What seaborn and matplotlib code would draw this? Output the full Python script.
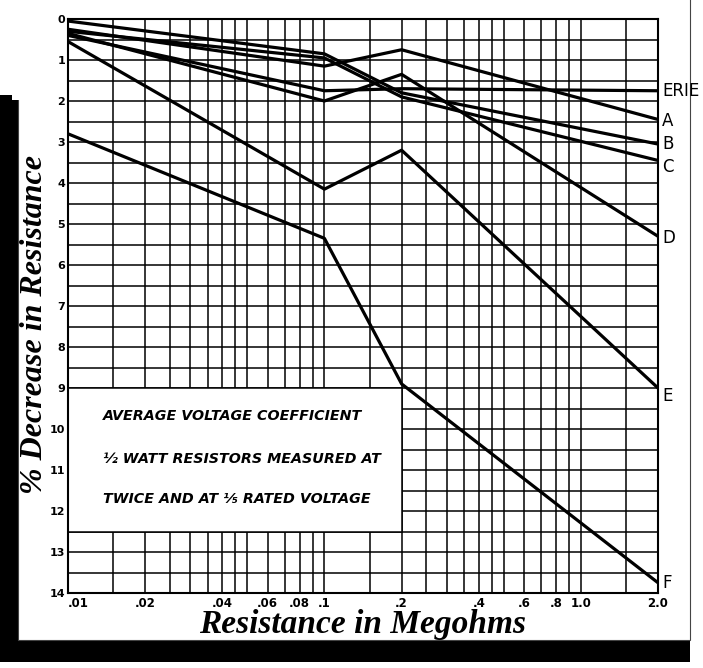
import numpy as np
import pandas as pd
import seaborn as sns
import matplotlib.pyplot as plt
from matplotlib.patches import Rectangle

# Data (resistance in megohms, % decrease)
resistance = [0.01, 0.1, 0.2, 2.0]
series_names = ["ERIE", "A", "B", "C", "D", "E", "F"]
erie = [0.40, 1.75, 1.70, 1.75]
a_vals = [0.25, 1.15, 0.75, 2.45]
b_vals = [0.05, 0.85, 1.80, 3.05]
c_vals = [0.30, 0.95, 1.90, 3.45]
d_vals = [0.35, 2.00, 1.35, 5.30]
e_vals = [0.55, 4.15, 3.20, 9.00]
f_vals = [2.80, 5.35, 8.90, 13.75]

x_tick_vals = [0.01, 0.02, 0.04, 0.06, 0.08, 0.1, 0.2, 0.4, 0.6, 0.8, 1.0, 2.0]
x_tick_labels = [".01", ".02", ".04", ".06", ".08", ".1", ".2", ".4", ".6", ".8", "1.0", "2.0"]
x_grid_vals = [0.01, 0.015, 0.02, 0.025, 0.03, 0.035, 0.04, 0.045, 0.05, 0.06, 0.07,
               0.08, 0.09, 0.1, 0.15, 0.2, 0.25, 0.3, 0.35, 0.4, 0.45, 0.5, 0.6,
               0.7, 0.8, 0.9, 1.0, 1.5, 2.0]
y_ticks = list(range(0, 15))

box_lines = ["AVERAGE VOLTAGE COEFFICIENT",
             "½ WATT RESISTORS MEASURED AT",
             "TWICE AND AT ⅕ RATED VOLTAGE"]

all_vals = [erie, a_vals, b_vals, c_vals, d_vals, e_vals, f_vals]
df = pd.DataFrame({
    "series": np.repeat(series_names, len(resistance)),
    "resistance": resistance * len(series_names),
    "decrease": np.concatenate(all_vals),
})

sns.set_style("white")
plt.rcParams["text.color"] = "black"
plt.rcParams["xtick.color"] = "black"
plt.rcParams["ytick.color"] = "black"
plt.rcParams["axes.labelcolor"] = "black"

W, H = 703, 668
fig = plt.figure(figsize=(W / 100, H / 100), dpi=100)

# photo mount: black shadow + white sheet
fig.patches.append(Rectangle((0, 6 / H), 690 / W, (662 - 95) / H, transform=fig.transFigure,
                             facecolor="black", edgecolor="none", zorder=-3))
fig.patches.append(Rectangle((18 / W, 1 - 640 / H), (690 - 18) / W, 650 / H, transform=fig.transFigure,
                             facecolor="white", edgecolor="#444444", lw=0.8, zorder=-2))
fig.patches.append(Rectangle((12 / W, 1 - 100 / H), 20 / W, 110 / H, transform=fig.transFigure,
                             facecolor="white", edgecolor="none", zorder=-1))

ax = fig.add_axes([68 / W, 1 - 593 / H, (658 - 68) / W, (593 - 19) / H])
ax.set_axisbelow(True)

sns.lineplot(data=df, x="resistance", y="decrease", units="series", estimator=None,
             color="black", lw=2.3, ax=ax, zorder=5)

ax.set_xscale("log")
ax.set_xlim(0.01, 2.0)
ax.set_ylim(14, 0)

ax.set_xticks(x_tick_vals)
ax.set_xticklabels(x_tick_labels)
ax.set_xticks([v for v in x_grid_vals if v not in x_tick_vals], minor=True)
ax.set_yticks(y_ticks)
ax.set_yticklabels([str(v) for v in y_ticks])
ax.set_yticks(np.arange(0.5, 14, 1.0), minor=True)
ax.tick_params(which="both", length=0)
ax.tick_params(axis="x", pad=3, labelsize=8.5)
ax.tick_params(axis="y", pad=2, labelsize=8)
for lab in ax.get_xticklabels() + ax.get_yticklabels():
    lab.set_fontweight("bold")
ax.get_xticklabels()[0].set_horizontalalignment("left")
ax.xaxis.set_minor_formatter(plt.NullFormatter())

ax.grid(which="both", color="black", lw=1.1)
for s in ax.spines.values():
    s.set_color("black")
    s.set_linewidth(1.5)

# white caption box covering the grid
ax.add_patch(Rectangle((0.01, 9), 0.2 - 0.01, 3.5, facecolor="white", edgecolor="black",
                       lw=1.1, zorder=2))
for txt, yy in zip(box_lines, [9.68, 10.73, 11.7]):
    ax.text(0.0137, yy, txt, fontsize=10.3, style="italic", fontweight="bold",
            va="center", ha="left", zorder=3)

# series labels at the right end
label_dy = [0.0, 0.05, 0.0, 0.15, 0.05, 0.2, 0.0]
for name, vals, dy in zip(series_names, all_vals, label_dy):
    ax.annotate(name, xy=(resistance[-1], vals[-1] + dy), xytext=(3, 0),
                textcoords="offset points", fontsize=12, va="center", ha="left",
                annotation_clip=False)

ax.set_xlabel("Resistance in Megohms", family="Liberation Serif", style="italic",
              fontweight="bold", fontsize=24, labelpad=-1)
ax.set_ylabel("% Decrease in Resistance", family="Liberation Serif", style="italic",
              fontweight="bold", fontsize=23)
ax.yaxis.set_label_coords((49 - 68) / (658 - 68), 0.467)

fig.savefig("out.png", dpi=100)
